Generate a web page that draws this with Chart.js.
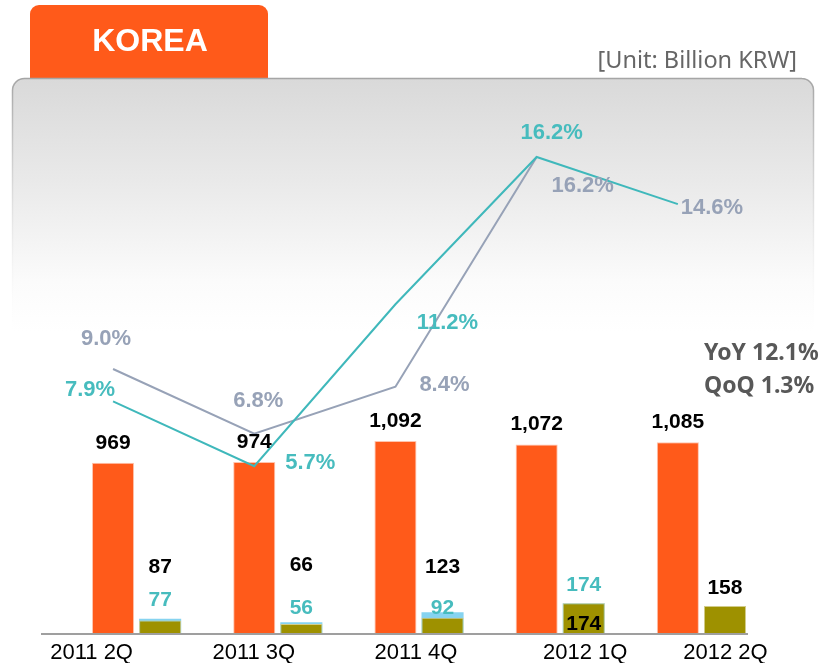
<!DOCTYPE html>
<html><head><meta charset="utf-8">
<script src="https://cdn.jsdelivr.net/npm/chart.js@4.4.0/dist/chart.umd.min.js"></script>
<style>html,body{margin:0;padding:0;background:#fff;}#wrap{width:825px;height:663px;position:relative;}</style>
</head><body><div id="wrap"><canvas id="c" width="825" height="663"></canvas></div>
<script>
// ---- data ----
const categories = ['2011 2Q', '2011 3Q', '2011 4Q', '2012 1Q', '2012 2Q'];
const sales = [969, 974, 1092, 1072, 1085];
const profitBlue = [87, 66, 123, 174, null];
const profitOlive = [77, 56, 92, 174, 158];
const marginGray = [9.0, 6.8, 8.4, 16.2, null];
const marginTeal = [7.9, 5.7, 11.2, 16.2, 14.6];
const blackLabelValues = [87, 66, 123, 174, 158];
const tealLabelValues = [77, 56, 92, 174, null];
const titleText = 'KOREA';
const unitText = '[Unit: Billion KRW]';
const growthTexts = ['YoY 12.1%', 'QoQ 1.3%'];

// ---- styles ----
const ORANGE = '#FF5A1A', OLIVE = '#9E9100', SKY = '#86D3F0', TEAL = '#3FB8BB', GRAY = '#97A2B7';
const TEAL_TXT = '#47BCBE', GRAY_TXT = '#97A2B7';
const numFont = 'bold 21px "Liberation Sans", Arial, sans-serif';
const pctFont = 'bold 22px "Liberation Sans", Arial, sans-serif';
const catLabelShift = [-45, -24, -3, 25, 24];
const blackLift = [-51, -57, -45, 21, -18];
const tealLift = [-20, -16, -10, -18, 0];
const grayPctOffset = [[-7, -30], [4, -33], [49, -2], [46, 29], null];
const tealPctOffset = [[-23, -11], [56, -3], [52, 19], [15, -24], [34, 4]];
const tealPctColor = [TEAL_TXT, TEAL_TXT, TEAL_TXT, TEAL_TXT, GRAY_TXT];

const fmt = v => v.toLocaleString('en-US');
const pct = v => v.toFixed(1) + '%';

const decor = {
  id: 'decor',
  beforeDraw(chart) {
    const ctx = chart.ctx;
    ctx.save();
    ctx.fillStyle = '#fff';
    ctx.fillRect(0, 0, chart.width, chart.height);
    // orange tab
    ctx.fillStyle = ORANGE;
    ctx.beginPath();
    ctx.roundRect(30, 5, 238, 78, [9, 9, 0, 0]);
    ctx.fill();
    ctx.fillStyle = '#fff';
    ctx.font = 'bold 32px "Liberation Sans", Arial, sans-serif';
    ctx.textAlign = 'center';
    ctx.textBaseline = 'middle';
    ctx.fillText(titleText, 150, 42);
    // unit
    ctx.fillStyle = '#666666';
    ctx.font = '23.5px "Noto Sans", sans-serif';
    ctx.textAlign = 'right';
    ctx.fillText(unitText, 797, 61);
    // panel
    const g = ctx.createLinearGradient(0, 78, 0, 332);
    g.addColorStop(0, '#d9d9d9');
    g.addColorStop(0.4, '#e9e9e9');
    g.addColorStop(0.8, '#fbfbfb');
    g.addColorStop(1, '#ffffff');
    ctx.fillStyle = g;
    ctx.beginPath();
    ctx.roundRect(12, 78, 802, 256, [12, 12, 0, 0]);
    ctx.fill();
    const gs = ctx.createLinearGradient(0, 78, 0, 330);
    gs.addColorStop(0, 'rgba(165,165,165,1)');
    gs.addColorStop(0.5, 'rgba(215,215,215,0.6)');
    gs.addColorStop(1, 'rgba(255,255,255,0)');
    ctx.strokeStyle = gs;
    ctx.lineWidth = 1.5;
    ctx.beginPath();
    ctx.moveTo(12.5, 330);
    ctx.lineTo(12.5, 90);
    ctx.arcTo(12.5, 78.5, 24, 78.5, 12);
    ctx.lineTo(802, 78.5);
    ctx.arcTo(813.5, 78.5, 813.5, 90, 12);
    ctx.lineTo(813.5, 330);
    ctx.stroke();
    ctx.restore();
  },
  beforeDatasetsDraw(chart) {
    // align line points with the orange bar centres
    const bars = chart.getDatasetMeta(2).data;
    [0, 1].forEach(di => {
      const meta = chart.getDatasetMeta(di);
      meta.data.forEach((p, i) => { p.x = bars[i].x; });
      if (meta.dataset) meta.dataset._path = undefined;
    });
  },
  afterDatasetsDraw(chart) {
    const ctx = chart.ctx;
    const xs = chart.scales.x;
    ctx.save();
    // axis line
    ctx.strokeStyle = '#9f9f9f';
    ctx.lineWidth = 2;
    ctx.beginPath();
    ctx.moveTo(41, chart.chartArea.bottom);
    ctx.lineTo(748, chart.chartArea.bottom);
    ctx.stroke();
    // category labels
    ctx.fillStyle = '#000';
    ctx.font = '22px "Liberation Sans", Arial, sans-serif';
    ctx.textAlign = 'center';
    ctx.textBaseline = 'middle';
    categories.forEach((c, i) => ctx.fillText(c, xs.getPixelForValue(i) + catLabelShift[i], 653));
    ctx.font = numFont;
    // sales labels
    const orange = chart.getDatasetMeta(2).data;
    sales.forEach((v, i) => { ctx.fillStyle = '#000'; ctx.fillText(fmt(v), orange[i].x, orange[i].y - 20); });
    // profit labels
    const olive = chart.getDatasetMeta(3).data;
    const blue = chart.getDatasetMeta(4).data;
    blackLabelValues.forEach((v, i) => {
      const top = Math.min(olive[i].y, profitBlue[i] == null ? Infinity : blue[i].y);
      ctx.fillStyle = '#000';
      ctx.fillText(fmt(v), olive[i].x, top + blackLift[i]);
    });
    tealLabelValues.forEach((v, i) => {
      if (v == null) return;
      ctx.fillStyle = TEAL_TXT;
      ctx.fillText(fmt(v), olive[i].x, olive[i].y + tealLift[i]);
    });
    // percent labels
    ctx.font = pctFont;
    const gp = chart.getDatasetMeta(1).data;
    marginGray.forEach((v, i) => {
      if (v == null) return;
      ctx.fillStyle = GRAY_TXT;
      ctx.fillText(pct(v), gp[i].x + grayPctOffset[i][0], gp[i].y + grayPctOffset[i][1]);
    });
    const tp = chart.getDatasetMeta(0).data;
    marginTeal.forEach((v, i) => {
      ctx.fillStyle = tealPctColor[i];
      ctx.fillText(pct(v), tp[i].x + tealPctOffset[i][0], tp[i].y + tealPctOffset[i][1]);
    });
    // growth text
    ctx.fillStyle = '#585858';
    ctx.font = 'bold 23px "Noto Sans", sans-serif';
    ctx.textAlign = 'left';
    ctx.fillText(growthTexts[0], 704, 353);
    ctx.fillText(growthTexts[1], 704, 386);
    ctx.restore();
  }
};

new Chart(document.getElementById('c'), {
  data: {
    labels: categories,
    datasets: [
      { type: 'line', data: marginTeal, yAxisID: 'y2', borderColor: TEAL, borderWidth: 2, pointRadius: 0, tension: 0, order: 0 },
      { type: 'line', data: marginGray, yAxisID: 'y2', borderColor: GRAY, borderWidth: 2, pointRadius: 0, tension: 0, order: 0 },
      { type: 'bar', data: sales, yAxisID: 'y', stack: 'a', backgroundColor: ORANGE, borderColor: '#FFC4AE', borderWidth: 1, order: 1 },
      { type: 'bar', data: profitOlive, yAxisID: 'y', stack: 'b', backgroundColor: OLIVE, borderColor: '#D2CC8A', borderWidth: 1, order: 2 },
      { type: 'bar', data: profitBlue, yAxisID: 'y', stack: 'b', backgroundColor: SKY, borderWidth: 0, order: 3 }
    ]
  },
  options: {
    responsive: false,
    animation: false,
    events: [],
    layout: { padding: { left: 66, right: 53, top: 104, bottom: 29 } },
    datasets: { bar: { categoryPercentage: 0.667, barPercentage: 0.894 } },
    plugins: { legend: { display: false }, tooltip: { enabled: false } },
    scales: {
      x: { display: false },
      y: { display: false, min: 0, max: 3000, stacked: false },
      y2: { display: false, min: 0, max: 18, position: 'right' }
    }
  },
  plugins: [decor]
});
</script>
</body></html>
